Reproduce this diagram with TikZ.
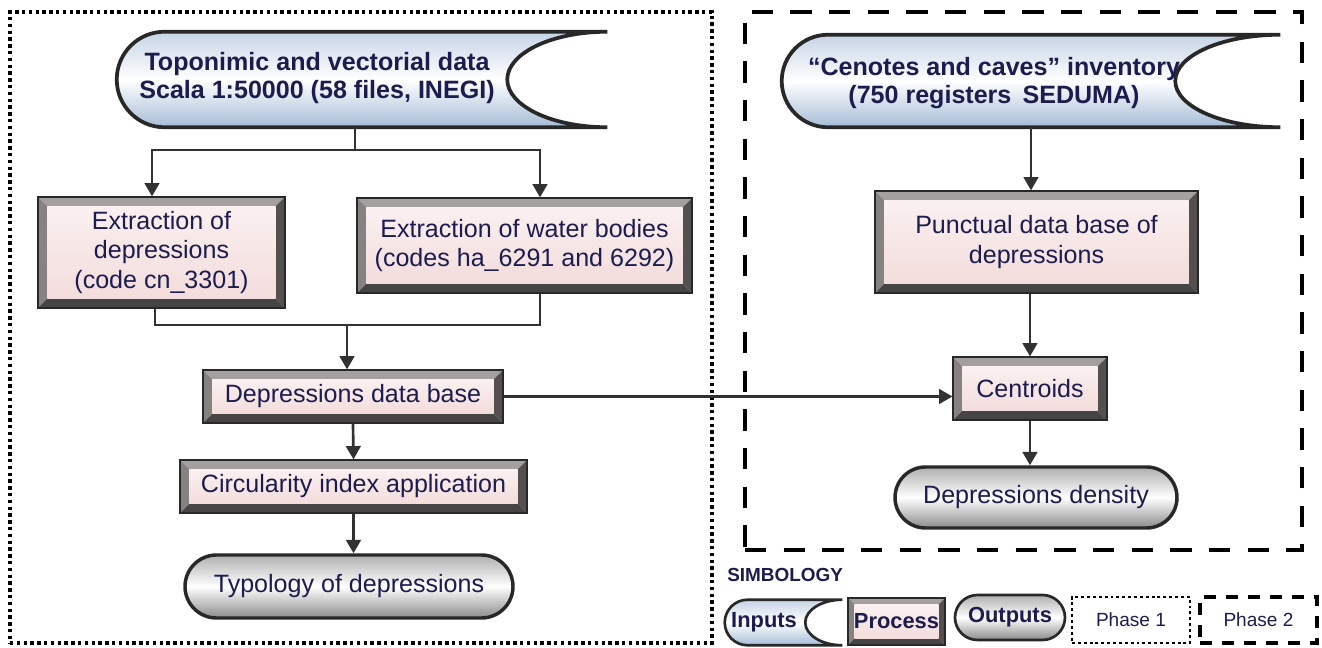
\documentclass[tikz,border=0pt]{standalone}
\usepackage{fontspec}
\setmainfont{Liberation Sans}
\usetikzlibrary{arrows.meta,shapes.misc,calc}

\definecolor{txt}{RGB}{28,28,78}
\definecolor{lnc}{RGB}{50,50,50}
\definecolor{rimout}{RGB}{40,40,40}
\definecolor{bevtop}{RGB}{165,160,160}
\definecolor{bevleft}{RGB}{135,130,130}
\definecolor{bevright}{RGB}{85,80,80}
\definecolor{bevbot}{RGB}{70,68,68}
\definecolor{pinkA}{RGB}{251,240,240}
\definecolor{pinkB}{RGB}{243,220,220}
\definecolor{inA}{RGB}{198,212,230}
\definecolor{inB}{RGB}{165,188,214}
\definecolor{outA}{RGB}{175,175,175}
\definecolor{outB}{RGB}{138,138,138}

\newcommand\bodyfs{\fontsize{18.8}{22}\selectfont}
\newcommand\inputfs{\bfseries\fontsize{18.8}{20.5}\selectfont}
\newcommand\legfs{\bfseries\fontsize{16.4}{18}\selectfont}
\newcommand\phasefs{\fontsize{14.3}{16}\selectfont}
\newcommand\simbfs{\bfseries\fontsize{14.2}{16}\selectfont}

% input ("stored data") outline: round left end, concave right end
\newcommand\inputshape[3]{%
  \path[inshape, line width=#3] let \p1=(#1.north west), \p2=(#1.south east),
      \n1={(\y1-\y2)/2}, \n2={#2*0.75pt} in
    (\x1+\n1,\y1) -- (\x2,\y1)
    arc[start angle=90, end angle=270, x radius=\n2, y radius=\n1]
    -- (\x1+\n1,\y2)
    arc[start angle=-90, end angle=-270, radius=\n1] -- cycle;
}

\tikzset{
  sz/.style 2 args={minimum width=#1*0.75pt, minimum height=#2*0.75pt},
  bev/.store in=\bevw, bev=7pt,
  proc/.style={rectangle, inner sep=0pt, align=center, text=txt, font=\bodyfs,
    draw=rimout, line width=0.9pt,
    path picture={
      \coordinate (pnw) at (path picture bounding box.north west);
      \coordinate (pne) at (path picture bounding box.north east);
      \coordinate (psw) at (path picture bounding box.south west);
      \coordinate (pse) at (path picture bounding box.south east);
      \coordinate (inw) at ([shift={(\bevw,-\bevw)}]pnw);
      \coordinate (ine) at ([shift={(-\bevw,-\bevw)}]pne);
      \coordinate (isw) at ([shift={(\bevw,\bevw)}]psw);
      \coordinate (ise) at ([shift={(-\bevw,\bevw)}]pse);
      \fill[bevtop] (pnw) -- (pne) -- (ine) -- (inw) -- cycle;
      \fill[bevleft] (pnw) -- (inw) -- (isw) -- (psw) -- cycle;
      \fill[bevright] (pne) -- (ine) -- (ise) -- (pse) -- cycle;
      \fill[bevbot] (psw) -- (isw) -- (ise) -- (pse) -- cycle;
      \shade[top color=pinkA, bottom color=pinkB] (inw) rectangle (ise);
    }},
  outp/.style={rounded rectangle, inner sep=0pt, align=center, text=txt, font=\bodyfs,
    draw=rimout, line width=2.6pt, top color=outA, bottom color=outB, middle color=white},
  inbox/.style={rectangle, inner sep=0pt, draw=none},
  inshape/.style={shade, top color=inA, bottom color=inB, middle color=white, draw=rimout},
  intext/.style={align=center, text=txt, font=\inputfs, inner sep=0pt},
  conn/.style={draw=lnc, line width=2pt},
  arrow/.style={conn, -{Triangle[width=11pt,length=10pt]}},
  arrows2/.style={conn, {Triangle[width=11pt,length=10pt]}-{Triangle[width=11pt,length=10pt]}},
  phaseone/.style={rectangle, draw=black, line width=2.5pt, dash pattern=on 2.5pt off 2.6pt},
  phasetwo/.style={rectangle, draw=black, line width=3.6pt, dash pattern=on 16pt off 13pt},
}

\begin{document}
\begin{tikzpicture}[x=0.75pt, y=-0.75pt]
\useasboundingbox (0,0) rectangle (1322,648);

% phase frames
\node[phaseone, sz={702}{631}] (ph1) at (361,327.5) {};
\node[phasetwo, sz={557}{538}] (ph2) at (1023.5,281) {};

% ---------- phase 1 ----------
\node[inbox, sz={490}{95}] (in1) at (362,79.5) {};
\inputshape{in1}{100}{2.8pt}
\node[intext] (t1) at (317,78) {Toponimic and vectorial data\\Scala 1:50000 (58 files, INEGI)};

\node[proc, sz={247}{111}] (ex1) at (161.5,252.5) {Extraction of\\depressions\\(code cn\_3301)};
\node[proc, sz={335}{95}] (ex2) at (524.5,245.5) {Extraction of water bodies\\(codes ha\_6291 and 6292)};
\node[proc, sz={300}{53}] (db) at (353,396.5) {Depressions data base};
\node[proc, sz={347}{53}] (circ) at (353.5,486.5) {Circularity index application};
\node[outp, sz={328}{63}] (typ) at (349,586.5) {Typology of depressions};

\coordinate (j1) at (355,150);
\coordinate (b1) at (152,150);
\coordinate (b2) at (540,150);
\coordinate (c1) at (155,325);
\coordinate (c2) at (540,325);
\coordinate (c3) at (347,325);

\draw[conn] (in1.south -| j1) -- (j1);
\draw[arrows2] (ex1.north -| b1) -- (b1) -- (b2) -- (ex2.north -| b2);
\draw[conn] (ex1.south -| c1) -- (c1) -- (c2) -- (ex2.south -| c2);
\draw[arrow] (c3) -- (db.north -| c3);
\draw[arrow] (db.south) -- (circ.north);
\draw[arrow] (circ.south) -- (circ.south |- typ.north);

% ---------- phase 2 ----------
\node[inbox, sz={498}{92}] (in2) at (1031,81) {};
\inputshape{in2}{105}{2.8pt}
\node[intext] (t2) at (994,83) {“Cenotes and caves” inventory\\(750 registers\, SEDUMA)};

\node[proc, sz={323}{102}] (punct) at (1036.5,242) {Punctual data base of\\depressions};
\node[proc, sz={154}{63}] (cen) at (1030,388.5) {Centroids};
\node[outp, sz={282}{61}] (dens) at (1036,497.5) {Depressions density};

\draw[arrow] (in2.south) -- (in2.south |- punct.north);
\draw[arrow] (cen.north |- punct.south) -- (cen.north);
\draw[arrow] (cen.south) -- (cen.south |- dens.north);
\draw[arrow] (db.east) -- (db.east -| cen.west);

% ---------- symbology ----------
\node[anchor=west, text=txt, font=\simbfs, inner sep=0pt] (simb) at (727,575) {SIMBOLOGY};

\node[inbox, sz={117}{45}] (lin) at (783.5,622.5) {};
\inputshape{lin}{37}{2pt}
\node[intext, font=\legfs] (lint) at (764,622) {Inputs};

\node[proc, bev=5pt, font=\legfs, sz={97}{47}] (lproc) at (896.5,621.5) {Process};
\node[outp, font=\legfs, line width=2pt, sz={110}{45}] (lout) at (1010,617.5) {Outputs};
\node[rectangle, draw=black, line width=2.2pt, dash pattern=on 2.2pt off 2.2pt,
      text=txt, font=\phasefs, sz={118}{46}] (lph1) at (1131,620) {Phase 1};
\node[rectangle, draw=black, line width=2.6pt, dash pattern=on 9pt off 7.5pt,
      text=txt, font=\phasefs, sz={117}{46}] (lph2) at (1258.5,620) {Phase 2};
\end{tikzpicture}
\end{document}
